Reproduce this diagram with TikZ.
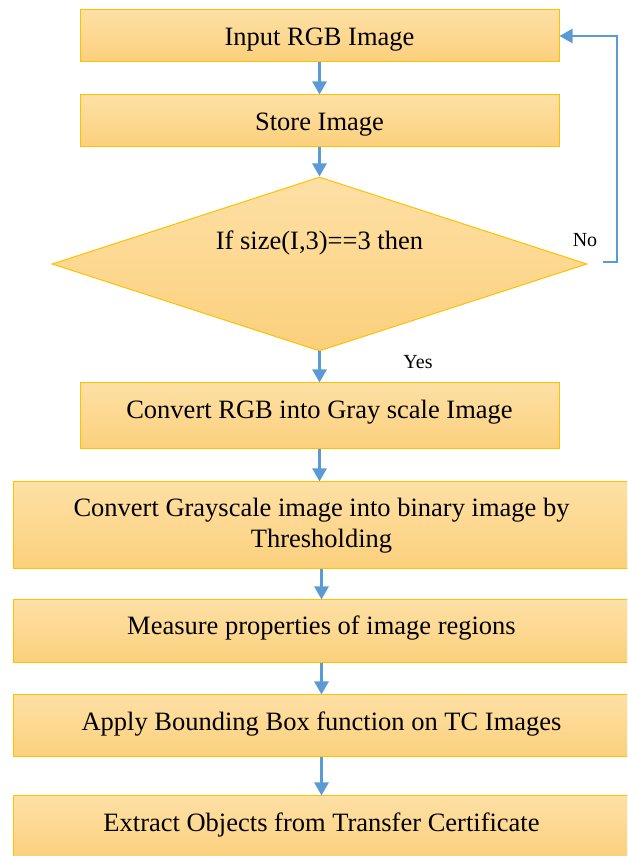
\documentclass[tikz,border=0pt]{standalone}
\usepackage{fontspec}
\setmainfont{Liberation Serif}
\usetikzlibrary{arrows.meta,calc,positioning,shapes.geometric}

\definecolor{boxtop}{HTML}{FEE0A5}
\definecolor{boxbot}{HTML}{FBD07C}
\definecolor{boxline}{HTML}{FFC000}
\definecolor{flowblue}{HTML}{5B9BD5}

\tikzset{
  procbox/.style={draw=boxline, line width=1pt, top color=boxtop, bottom color=boxbot, rectangle, align=center, inner sep=0pt, font=\rmfamily\fontsize{26.5}{31}\selectfont},
  decbox/.style={draw=boxline, line width=1pt, top color=boxtop, bottom color=boxbot, diamond, inner sep=0pt, minimum width=535pt, minimum height=174pt},
  flowarrow/.style={draw=flowblue, line width=2.5pt, -{Triangle[width=14pt,length=13pt]}},
  flowlabel/.style={font=\rmfamily\fontsize{20}{24}\selectfont}
}

\begin{document}
\begin{tikzpicture}[x=1pt,y=1pt]
		\path[use as bounding box, clip] (0,0) rectangle (627,856);

		\node[procbox, minimum width=479pt, minimum height=52pt, text height=24pt] (in) at (319.5,820) {Input RGB Image};
		\node[procbox, minimum width=479pt, minimum height=52pt, text height=24pt, below = 32pt of in] (store) {Store Image};
		\node[decbox, below = 29pt of store, label={[font=\rmfamily\fontsize{26.5}{31}\selectfont, yshift=21pt]center:If size(I,3)==3 then}] (dec) {};
		\node[procbox, minimum width=479pt, minimum height=66pt, below = 31pt of dec, text depth=14pt] (gray) {Convert RGB into Gray scale Image};
		\node[procbox, minimum width=617pt, minimum height=87pt, below = 32pt of gray, xshift=2pt] (bin) {Convert Grayscale image into binary image by\\Thresholding};
		\node[procbox, minimum width=617pt, minimum height=63pt, below = 30pt of bin, text depth=12pt] (props) {Measure properties of image regions};
		\node[procbox, minimum width=617pt, minimum height=62pt, below = 31pt of props, text depth=10pt] (bbox) {Apply Bounding Box function on TC Images};
		\node[procbox, minimum width=617pt, minimum height=64pt, below = 38pt of bbox, text depth=12pt] (extract) {Extract Objects from Transfer Certificate};

		\coordinate (noback) at (603,594);
		\coordinate (noturn) at (617,594);

		\draw[flowarrow] (in) -- (store);
		\draw[flowarrow] (store) -- (dec);
		\draw[flowarrow] (dec) -- (gray);
		\draw[flowarrow] (gray) -- (gray |- bin.north);
		\draw[flowarrow] (bin) -- (props);
		\draw[flowarrow] (props) -- (bbox);
		\draw[flowarrow] (bbox) -- (extract);
		\draw[flowarrow] (noback) -- (noturn) |- (in.east);

		\node[flowlabel] (no) at (585,616) {No};
		\node[flowlabel] (yes) at (418,494) {Yes};
	\end{tikzpicture}
\end{document}
